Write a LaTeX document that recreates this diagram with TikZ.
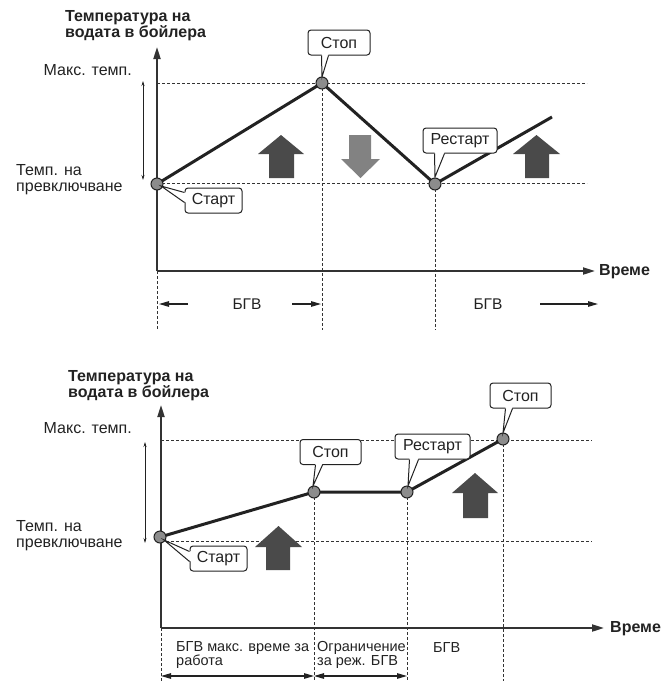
\documentclass[tikz,border=0pt]{standalone}
\usepackage{fontspec}
\setmainfont{Liberation Sans}
\usetikzlibrary{arrows.meta,calc}
\definecolor{ink}{HTML}{222222}
\definecolor{axisc}{HTML}{333333}
\definecolor{dotc}{HTML}{8C8C8C}
\definecolor{upc}{HTML}{4A4A4A}
\definecolor{downc}{HTML}{828282}
\tikzset{
  lbl/.style={font=\fontsize{16}{16}\selectfont, inner sep=0pt, align=left, text=ink},
  mid/.style={font=\fontsize{15.5}{16}\selectfont, inner sep=0pt, align=left, text=ink},
  sml/.style={font=\fontsize{14.5}{14}\selectfont, inner sep=0pt, align=left, text=ink},
  ttl/.style={font=\fontsize{16}{15}\selectfont\bfseries, inner sep=0pt, align=left, text=ink},
  timelbl/.style={font=\fontsize{16}{16}\selectfont\bfseries, inner sep=0pt, anchor=west, text=ink},
  axisline/.style={line width=2pt, draw=axisc, -{Triangle[length=12pt,width=7pt]}},
  gridline/.style={line width=1pt, draw=axisc, dash pattern=on 3pt off 2pt},
  curve/.style={line width=3pt, draw=ink, line join=round},
  dot/.style={circle, fill=dotc, draw=ink, line width=1pt, minimum size=12pt, inner sep=0pt},
  callout/.style={draw=ink, fill=white, line width=1pt, rounded corners=3pt,
    minimum height=25pt, inner sep=0pt, font=\fontsize{16}{16}\selectfont, text=ink},
  rangearrow/.style={line width=0.7pt, draw=ink, {Stealth[length=5pt,width=3pt]}-{Stealth[length=5pt,width=3pt]}},
  spanarrow/.style={line width=1.2pt, draw=ink, -{Triangle[length=10pt,width=5.5pt]}},
  twoarrow/.style={line width=1.2pt, draw=ink, {Triangle[length=10pt,width=5.5pt]}-{Triangle[length=10pt,width=5.5pt]}},
  upblock/.style={fill=upc},
  downblock/.style={fill=downc},
}
\newcommand{\pointer}[4]{% base1, base2, tip, inward shift
  \fill[white] ($(#1)+#4$) -- (#3) -- ($(#2)+#4$) -- cycle;
  \draw[ink, line width=1pt, line join=miter] (#1) -- (#3) -- (#2);}
\begin{document}
\begin{tikzpicture}[x=1pt,y=-1pt]
\useasboundingbox (0,0) rectangle (664,681);

%================ TOP CHART =================
\coordinate (o1) at (157,271);
\coordinate (ytop1) at (157,47);
\coordinate (xend1) at (595,271);
% dashed grid
\coordinate (maxL1) at (157,83);  \coordinate (maxR1) at (587,83);
\coordinate (swL1) at (157,183);  \coordinate (swR1) at (587,183);
\draw[gridline] (maxL1) -- (maxR1);
\draw[gridline] (swL1) -- (swR1);
\coordinate (v0b) at (157,330);
\coordinate (v1b) at (322,330);
\coordinate (v2b) at (435,330);
\draw[gridline] (o1) -- (v0b);
\draw[gridline] (322,83) -- (v1b);
\draw[gridline] (435,184) -- (v2b);
% axes
\draw[axisline] (o1) -- (ytop1);
\draw[axisline] (o1) -- (xend1);
\node[ttl, anchor=west] (title1) at (65,25.5) {Температура на\\водата в бойлера};
\node[lbl, anchor=east] (max1) at (132,70) {Макс. темп.};
\node[lbl, anchor=west] (sw1) at (16,180) {Темп. на\\превключване};
\node[timelbl] (time1) at (599,272) {Време};
% range arrow
\coordinate (ra1) at (143,81); \coordinate (rb1) at (143,180);
\draw[rangearrow] (ra1) -- (rb1);
% block arrows
\fill[upblock] (281,135) -- (304,154) -- (294,154) -- (294,178) -- (269,178) -- (269,154) -- (258,154) -- cycle;
\fill[downblock] (360.5,178) -- (380,159) -- (371,159) -- (371,135) -- (349,135) -- (349,159) -- (341,159) -- cycle;
\fill[upblock] (536.5,135) -- (560,154) -- (549,154) -- (549,178) -- (525,178) -- (525,154) -- (513,154) -- cycle;
% curve
\coordinate (cend1) at (552,117);
\draw[curve] (157,184) -- (322,83) -- (435,184) -- (cend1);
\node[dot] (s1) at (157,184) {};
\node[dot] (p1) at (322,83) {};
\node[dot] (r1) at (435,184) {};
% callouts
\node[callout, minimum width=62pt] (cs1) at (339,42.5) {Стоп};
\coordinate (t1) at (322,77);
\pointer{$(cs1.south west)+(14,0)$}{$(cs1.south west)+(21,0)$}{t1}{(0,-1.5)}
\node[callout, minimum width=57pt] (cst1) at (213.5,200.5) {Старт};
\coordinate (t2) at (161,186);
\pointer{$(cst1.north west)+(0,5)$}{$(cst1.north west)+(0,15)$}{t2}{(1.5,0)}
\node[callout, minimum width=74pt] (cr1) at (460,140.5) {Рестарт};
\coordinate (t3) at (435,177);
\pointer{$(cr1.south west)+(12,0)$}{$(cr1.south west)+(22,0)$}{t3}{(0,-1.5)}
% bottom labels
\node[mid] (bgv1) at (247,304) {БГВ};
\coordinate (a1s) at (188,304); \coordinate (a1e) at (159,304);
\coordinate (a2s) at (292,304); \coordinate (a2e) at (321,304);
\draw[spanarrow] (a1s) -- (a1e);
\draw[spanarrow] (a2s) -- (a2e);
\node[mid] (bgv2) at (488,304) {БГВ};
\coordinate (a3s) at (540,304); \coordinate (a3e) at (598,304);
\draw[spanarrow] (a3s) -- (a3e);

%================ BOTTOM CHART =================
\coordinate (o2) at (161,628);
\coordinate (ytop2) at (161,405);
\coordinate (xend2) at (604,628);
\draw[gridline] (161,440) -- (592,440);
\draw[gridline] (161,541) -- (592,541);
\coordinate (w0b) at (161,681);
\coordinate (w1b) at (314,681);
\coordinate (w2b) at (407,681);
\coordinate (w3b) at (503,681);
\draw[gridline] (o2) -- (w0b);
\draw[gridline] (314,492) -- (w1b);
\draw[gridline] (407,492) -- (w2b);
\draw[gridline] (503,439) -- (w3b);
\draw[axisline] (o2) -- (ytop2);
\draw[axisline] (o2) -- (xend2);
\node[ttl, anchor=west] (title2) at (68,385.5) {Температура на\\водата в бойлера};
\node[lbl, anchor=east] (max2) at (132,428) {Макс. темп.};
\node[lbl, anchor=west] (sw2) at (16,535.5) {Темп. на\\превключване};
\node[timelbl] (time2) at (610,629) {Време};
\coordinate (ra2) at (145,442); \coordinate (rb2) at (145,543);
\draw[rangearrow] (ra2) -- (rb2);
% block arrows
\fill[upblock] (278.5,526) -- (302,547) -- (290,547) -- (290,570) -- (266,570) -- (266,547) -- (255,547) -- cycle;
\fill[upblock] (475,473) -- (498,493) -- (488,493) -- (488,518) -- (463,518) -- (463,493) -- (452,493) -- cycle;
% curve
\draw[curve] (160,537) -- (314,492) -- (407,492) -- (503,439);
\node[dot] (s2) at (160,537) {};
\node[dot] (p2) at (314,492) {};
\node[dot] (r2) at (407,492) {};
\node[dot] (q2) at (503,439) {};
% callouts
\node[callout, minimum width=61pt] (cs2) at (330.5,452) {Стоп};
\coordinate (t4) at (313,486);
\pointer{$(cs2.south west)+(16,0)$}{$(cs2.south west)+(23,0)$}{t4}{(0,-1.5)}
\node[callout, minimum width=75pt] (cr2) at (432.5,446.5) {Рестарт};
\coordinate (t5) at (408,486);
\pointer{$(cr2.south west)+(15,0)$}{$(cr2.south west)+(24,0)$}{t5}{(0,-1.5)}
\node[callout, minimum width=61pt] (cq2) at (520.5,395.5) {Стоп};
\coordinate (t6) at (503,433);
\pointer{$(cq2.south west)+(16,0)$}{$(cq2.south west)+(23,0)$}{t6}{(0,-1.5)}
\node[callout, minimum width=57pt] (cst2) at (218.5,558.5) {Старт};
\coordinate (t7) at (164,540);
\pointer{$(cst2.north west)+(0,6)$}{$(cst2.north west)+(0,16)$}{t7}{(1.5,0)}
% labels under axis
\node[sml, anchor=west] (lab1) at (176,655) {БГВ макс. време за\\работа};
\node[sml, anchor=west] (lab2) at (317,655) {Ограничение\\за реж. БГВ};
\node[sml, anchor=west] (lab3) at (433,648) {БГВ};
\draw[twoarrow] (o2 |- 0,676) -- (w1b |- 0,676);
\draw[twoarrow] (w1b |- 0,676) -- (w2b |- 0,676);
\end{tikzpicture}
\end{document}
